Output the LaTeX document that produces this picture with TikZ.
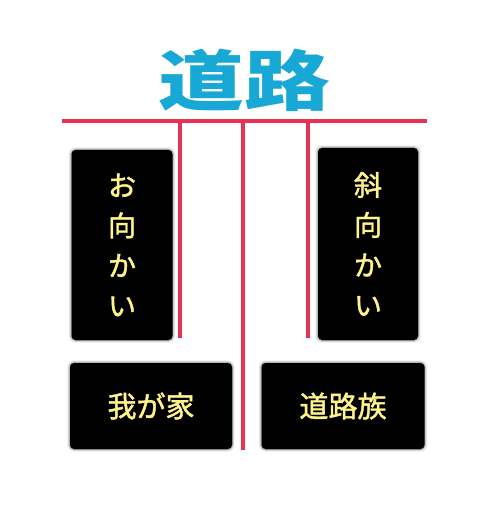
\documentclass[tikz,border=0pt]{standalone}
\usepackage{fontspec}
\newfontfamily\jp{Noto Sans CJK JP}
\newfontfamily\jpm[FakeBold=1.5]{Noto Sans CJK JP}
\usepackage{tikz}
\usetikzlibrary{positioning, shadows.blur}
\definecolor{roadred}{RGB}{232,50,82}
\definecolor{titleblue}{RGB}{24,168,214}
\definecolor{namecol}{RGB}{255,243,140}
\tikzset{
road/.style={draw=roadred, line width=4pt}, % the red road lines
house/.style={fill=black, rounded corners=4pt, text=namecol, align=center,
  blur shadow={shadow xshift=0pt, shadow yshift=0pt, shadow opacity=70, shadow blur steps=6, shadow blur radius=3pt}}, % sets the properties for each house
}

\begin{document}
\begin{tikzpicture}[x=1pt, y=-1pt]
            \useasboundingbox (0,0) rectangle (500,510);

            \node[text=titleblue, xscale=1.3, font=\jp\bfseries\fontsize{66}{66}\selectfont] (title) at (244,80) {道路};

            \node[house, minimum width=101pt, minimum height=190pt, font=\jpm\fontsize{28}{40}\selectfont] (front) at (122,245) {お\\向\\か\\い};
            \node[house, minimum width=100pt, minimum height=192pt, font=\jpm\fontsize{28}{40}\selectfont] (diag) at (368,244) {斜\\向\\か\\い};
            \node[house, minimum width=162pt, minimum height=86pt, font=\jpm\fontsize{29}{29}\selectfont] (home) at (151,406) {我が家};
            \node[house, minimum width=163pt, minimum height=86pt, font=\jpm\fontsize{29}{29}\selectfont] (clan) at (343,406) {道路族};

            \coordinate (rl) at (62,121);
            \coordinate (rr) at (427,121);
            \coordinate (a1) at (180,121);
            \coordinate (a2) at (180,338);
            \coordinate (b1) at (243,121);
            \coordinate (b2) at (243,450);
            \coordinate (c1) at (308,121);
            \coordinate (c2) at (308,338);

            \draw[road]   (rl) -- (rr)
                    (a1) -- (a2)
                    (b1) -- (b2)
                    (c1) -- (c2)
                    ;
        \end{tikzpicture}
\end{document}
